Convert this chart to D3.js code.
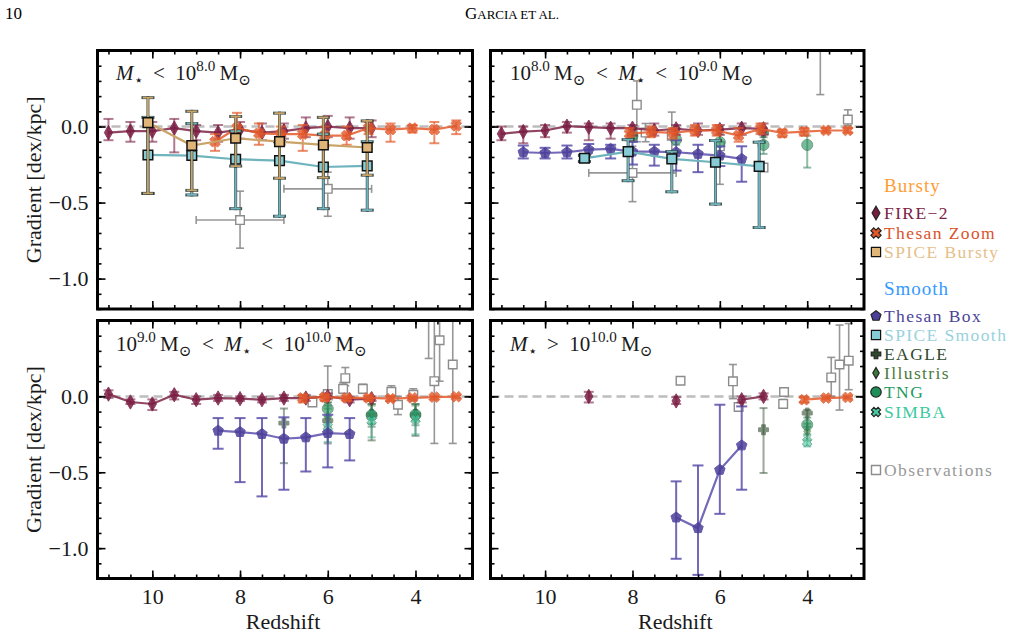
<!DOCTYPE html>
<html>
<head>
<meta charset="utf-8">
<script src="https://d3js.org/d3.v7.min.js"></script>
<style>
  body { margin: 0; background: #fff; }
  svg { display: block; font-family: 'Liberation Serif', 'DejaVu Serif', serif; }
</style>
</head>
<body>
<div id="chart"></div>
<script>
// ---- data, one array per panel: [z, gradient, errLow, errHigh]
var zTicks = [10, 8, 6, 4];
var zMinor = d3.range(3, 11.01, 0.5);
var gTicks = [0, -0.5, -1.0];
var gMinor = d3.range(-12, 6, 1).map(function(d){ return d / 10; });

var fire2 = [
  [[11.0,-0.04,-0.09,0.05],[10.5,-0.03,-0.10,0.03],[10.0,-0.03,-0.10,0.03],[9.5,-0.01,-0.17,0.05],[9.0,-0.03,-0.09,0.01],[8.5,-0.04,-0.10,0.01],[8.0,-0.02,-0.08,0.03],[7.5,-0.04,-0.09,0.02],[7.0,-0.03,-0.08,0.02],[6.5,-0.01,-0.07,0.06],[6.0,0.0,-0.07,0.07],[5.5,-0.01,-0.08,0.06],[5.0,-0.01,-0.07,0.04]],
  [[11.0,-0.048,-0.09,0.0],[10.5,-0.033,-0.11,0.0],[10.0,-0.026,-0.07,0.01],[9.5,0.002,-0.04,0.03],[9.0,-0.004,-0.09,0.02],[8.5,-0.011,-0.08,0.02],[8.0,-0.011,-0.06,0.01],[7.5,-0.026,-0.06,0.02],[7.0,-0.015,-0.055,0.01],[6.5,-0.026,-0.055,0.02],[6.0,-0.02,-0.055,0.01],[5.5,-0.011,-0.055,0.02],[5.0,-0.015,-0.055,0.02]],
  [[11.0,0.015,-0.01,0.04],[10.5,-0.037,-0.05,-0.02],[10.0,-0.05,-0.09,-0.02],[9.5,0.011,-0.02,0.03],[9.0,-0.022,-0.05,0.0],[8.5,-0.011,-0.03,0.01],[8.0,-0.015,-0.03,0.0],[7.5,-0.022,-0.04,-0.005],[7.0,-0.011,-0.03,0.01],[6.5,-0.011,-0.03,0.01],[6.0,0.0,-0.02,0.02],[5.5,-0.022,-0.04,-0.005],[5.0,-0.015,-0.03,0.0]],
  [[9.0,0.0,-0.04,0.03],[7.0,-0.03,-0.05,-0.005],[5.5,-0.022,-0.04,0.0],[5.0,0.0,-0.02,0.02]]
];

var thesanZoom = [
  [[8.57,-0.10,-0.16,-0.05],[8.07,-0.01,-0.08,0.09],[7.57,-0.045,-0.12,0.02],[7.07,-0.05,-0.12,0.0],[6.57,-0.05,-0.16,0.01],[6.07,-0.06,-0.13,0.0],[5.57,-0.06,-0.12,0.0],[5.07,-0.01,-0.05,0.03],[4.57,-0.02,-0.10,0.02],[4.07,-0.01,-0.04,0.01],[3.57,-0.02,-0.11,0.03],[3.07,0.005,-0.05,0.04]],
  [[8.07,-0.048,-0.09,-0.01],[7.57,-0.035,-0.07,0.0],[7.07,-0.042,-0.08,-0.01],[6.57,-0.026,-0.06,0.01],[6.07,-0.026,-0.06,0.01],[5.57,-0.059,-0.10,-0.01],[5.07,-0.015,-0.05,0.02],[4.57,-0.042,-0.07,-0.02],[4.07,-0.033,-0.06,-0.01],[3.57,-0.026,-0.04,-0.01],[3.07,-0.026,-0.04,-0.01]],
  [[6.57,-0.01,-0.04,0.01],[6.07,-0.005,-0.03,0.01],[5.57,-0.01,-0.03,0.0],[5.07,-0.01,-0.03,0.0],[4.57,-0.015,-0.03,0.0],[4.07,-0.01,-0.02,0.0],[3.57,-0.005,-0.02,0.0],[3.07,-0.002,-0.01,0.005]],
  [[4.07,-0.022,-0.04,-0.005],[3.57,-0.011,-0.02,0.0],[3.07,-0.007,-0.015,0.0]]
];

var spiceBursty = [
  [[10.1,0.026,-0.44,0.19],[9.1,-0.125,-0.42,0.10],[8.1,-0.077,-0.26,0.066],[7.1,-0.099,-0.34,0.088],[6.1,-0.121,-0.336,0.06],[5.1,-0.138,-0.32,0.037]],
  [], [], []
];

var spiceSmooth = [
  [[10.1,-0.187,-0.44,0.06],[9.1,-0.191,-0.45,0.02],[8.1,-0.215,-0.54,-0.03],[7.1,-0.224,-0.59,-0.10],[6.1,-0.266,-0.54,-0.05],[5.1,-0.259,-0.55,-0.10]],
  [[9.1,-0.209,-0.23,-0.19],[8.1,-0.165,-0.356,-0.086],[7.1,-0.213,-0.429,-0.165],[6.1,-0.235,-0.51,-0.092],[5.1,-0.262,-0.664,-0.103]],
  [], []
];

var thesanBox = [
  [],
  [[10.5,-0.169,-0.21,-0.125],[10.0,-0.174,-0.21,-0.14],[9.5,-0.169,-0.21,-0.125],[9.0,-0.152,-0.20,-0.115],[8.5,-0.147,-0.21,-0.12],[8.0,-0.165,-0.25,-0.10],[7.5,-0.165,-0.257,-0.12],[7.0,-0.169,-0.29,-0.09],[6.5,-0.180,-0.30,-0.12],[6.0,-0.191,-0.26,-0.13],[5.5,-0.213,-0.363,-0.13]],
  [[8.5,-0.226,-0.345,-0.143],[8.0,-0.235,-0.565,-0.143],[7.5,-0.248,-0.659,-0.143],[7.0,-0.279,-0.615,-0.138],[6.5,-0.270,-0.495,-0.143],[6.0,-0.242,-0.468,-0.121],[5.5,-0.248,-0.422,-0.143]],
  [[7.0,-0.798,-1.07,-0.56],[6.5,-0.868,-1.176,-0.455],[6.0,-0.484,-0.774,-0.055],[5.5,-0.323,-0.615,-0.066]]
];

var eagle = [
  [],
  [[8.0,-0.05,-0.08,-0.02],[5.0,-0.04,-0.07,-0.01]],
  [[7.0,-0.176,-0.44,-0.08],[6.0,-0.16,-0.31,-0.06],[5.0,-0.12,-0.29,-0.05],[4.0,-0.12,-0.26,-0.05]],
  [[5.0,-0.22,-0.505,-0.077],[4.0,-0.11,-0.20,-0.09]]
];
var illustris = [
  [], [],
  [[6.0,-0.14,-0.20,-0.08],[5.0,-0.11,-0.18,-0.06],[4.0,-0.11,-0.16,-0.06]],
  [[4.0,-0.23,-0.29,-0.18]]
];
var tng = [
  [],
  [[8.0,-0.064,-0.10,-0.02],[7.0,-0.086,-0.12,-0.05],[6.0,-0.103,-0.20,-0.05],[5.0,-0.121,-0.18,-0.04],[4.0,-0.121,-0.27,-0.06]],
  [[6.0,-0.081,-0.13,-0.04],[5.0,-0.125,-0.20,-0.05],[4.0,-0.121,-0.19,-0.05]],
  [[4.0,-0.187,-0.25,-0.14]]
];
var simba = [
  [], [],
  [[6.0,-0.20,-0.30,-0.13],[5.0,-0.16,-0.27,-0.10],[4.0,-0.15,-0.25,-0.10]],
  [[4.0,-0.30,-0.33,-0.26]]
];

// observations: [z, gradient, errLow, errHigh, zLow, zHigh]
var observations = [
  [[8.0,-0.615,-0.80,-0.425,9.0,7.0],[6.0,-0.41,-0.59,-0.30,7.0,5.0]],
  [[7.9,0.143,-0.10,0.30],[8.0,-0.305,-0.494,-0.13,9.0,7.0],[7.7,-0.04,-0.10,0.02],[7.1,-0.06,-0.20,0.095],[6.0,-0.13,-0.38,0.0],[5.0,-0.27,-0.29,-0.25],[3.7,0.65,0.21,1.0],[3.07,0.046,0.007,0.11]],
  [[6.0,0.015,-0.04,0.20],[6.35,-0.04,-0.05,-0.03],[5.6,0.12,0.07,0.19],[5.65,0.05,0.02,0.09],[5.2,0.05,0.02,0.08],[4.55,0.03,0.0,0.07],[4.4,-0.055,-0.12,0.0],[4.05,0.01,-0.03,0.05],[3.7,0.6,0.25,0.8],[3.57,0.10,-0.31,0.55],[3.45,0.37,0.10,0.6],[3.15,0.21,-0.31,0.55]],
  [[6.9,0.103,0.103,0.103],[5.7,0.099,-0.015,0.21],[5.57,-0.07,-0.08,-0.06],[4.53,0.029,0.007,0.051],[4.55,-0.05,-0.077,-0.02],[3.45,0.125,0.0,0.257],[3.26,0.21,-0.09,0.47],[3.05,0.235,0.044,0.48]]
];

var SP = "\u2002"; // en space, for math spacing round relations
var panelTitles = [
  [["M","i"],["⋆","sub"],[SP + "<" + SP + "10",""],["8.0","sup"],["\u2009M",""],["⊙","sub"]],
  [["10",""],["8.0","sup"],["\u2009M",""],["⊙","sub"],[SP + "<" + SP,""],["M","i"],["⋆","sub"],[SP + "<" + SP + "10",""],["9.0","sup"],["\u2009M",""],["⊙","sub"]],
  [["10",""],["9.0","sup"],["\u2009M",""],["⊙","sub"],[SP + "<" + SP,""],["M","i"],["⋆","sub"],[SP + "<" + SP + "10",""],["10.0","sup"],["\u2009M",""],["⊙","sub"]],
  [["M","i"],["⋆","sub"],[SP + ">" + SP + "10",""],["10.0","sup"],["\u2009M",""],["⊙","sub"]]
];

// ---- marker shapes
function polyPath(pts) { return "M" + pts.map(function(p){ return p[0].toFixed(2) + "," + p[1].toFixed(2); }).join("L") + "Z"; }
function plusPts(s) {
  var w = s * 0.38;
  return [[w,-s],[w,-w],[s,-w],[s,w],[w,w],[w,s],[-w,s],[-w,w],[-s,w],[-s,-w],[-w,-w],[-w,-s]];
}
var shapes = {
  diamond: function(s){ return polyPath([[0,-s*1.3],[s*0.75,0],[0,s*1.3],[-s*0.75,0]]); },
  xfill: function(s){ var c = Math.SQRT1_2; return polyPath(plusPts(s*1.1).map(function(p){ return [(p[0]-p[1])*c,(p[0]+p[1])*c]; })); },
  plus: function(s){ return polyPath(plusPts(s)); },
  square: function(s){ return polyPath([[-s,-s],[s,-s],[s,s],[-s,s]]); },
  pentagon: function(s){ return polyPath(d3.range(5).map(function(k){ var a = -Math.PI/2 + k*2*Math.PI/5; return [s*1.1*Math.cos(a), s*1.1*Math.sin(a)]; })); },
  circle: function(s){ return d3.symbol(d3.symbolCircle, Math.PI*s*s)(); }
};

var styles = {
  fire2:       {data: fire2, shape: "diamond", size: 5.5, fill: "#7a1c42", edge: "#7a1c42", ew: 1, color: "#7d2447", mop: 0.85, eop: 0.6, line: true, cap: 5},
  thesanZoom:  {data: thesanZoom, shape: "xfill", size: 5, fill: "#e2582a", edge: "#e2582a", ew: 1, color: "#e55c2c", mop: 0.8, eop: 0.7, line: true, cap: 5},
  spiceBursty: {data: spiceBursty, shape: "square", size: 4.8, fill: "#dfb578", edge: "#111", ew: 1.5, color: "#c9a468", mop: 1, eop: 1, line: true, cap: 5, outline: true},
  spiceSmooth: {data: spiceSmooth, shape: "square", size: 4.8, fill: "#86cbd6", edge: "#111", ew: 1.5, color: "#6fb4bd", mop: 1, eop: 1, line: true, cap: 5, outline: true},
  thesanBox:   {data: thesanBox, shape: "pentagon", size: 5, fill: "#4b3f99", edge: "#4b3f99", ew: 1, color: "#5a4fab", mop: 0.85, eop: 0.85, line: true, cap: 5.5},
  eagle:       {data: eagle, shape: "plus", size: 5, fill: "#2c4a2c", edge: "#2c4a2c", ew: 1, color: "#3a553a", mop: 0.6, eop: 0.5, line: false, cap: 4},
  illustris:   {data: illustris, shape: "diamond", size: 4.5, fill: "#3b7a3b", edge: "#3b7a3b", ew: 1, color: "#3b7a3b", mop: 0.6, eop: 0.5, line: false, cap: 4},
  tng:         {data: tng, shape: "circle", size: 5.5, fill: "#1f8f58", edge: "#1f5f3a", ew: 1, color: "#2a7a55", mop: 0.6, eop: 0.5, line: false, cap: 4},
  simba:       {data: simba, shape: "xfill", size: 4.5, fill: "#45c9a0", edge: "#2a7a60", ew: 1, color: "#3aa888", mop: 0.6, eop: 0.5, line: false, cap: 4}
};
var drawOrder = ["eagle", "illustris", "tng", "simba", "thesanBox", "fire2", "thesanZoom", "spiceSmooth", "spiceBursty"];

var panels = [
  {x0: 97.5, x1: 472.5, y0: 50.5, y1: 309, left: true, bottom: false, tx: 116, ty: 80},
  {x0: 490.5, x1: 864, y0: 50.5, y1: 309, left: false, bottom: false, tx: 510, ty: 80},
  {x0: 97.5, x1: 472.5, y0: 320.5, y1: 578.5, left: true, bottom: true, tx: 116, ty: 351},
  {x0: 490.5, x1: 864, y0: 320.5, y1: 578.5, left: false, bottom: true, tx: 510, ty: 351}
];

var svg = d3.select("#chart").append("svg").attr("width", 1023).attr("height", 635);

// page header
svg.append("text").attr("x", 5).attr("y", 19).style("font-size", "17px").text("10");
var hdr = svg.append("text").attr("x", 512).attr("y", 19).attr("text-anchor", "middle").style("font-size", "17px");
hdr.append("tspan").text("G");
hdr.append("tspan").style("font-size", "13px").text("ARCIA ET AL.");

function mathText(g, x, y, segs, size) {
  var t = g.append("text").attr("x", x).attr("y", y).style("font-size", size + "px").style("white-space", "pre").attr("fill", "#1a1a1a");
  var shift = 0;
  segs.forEach(function(s) {
    var sp = t.append("tspan").text(s[0]);
    var target = s[1] == "sup" ? -0.42 * size : (s[1] == "sub" ? 0.22 * size : 0);
    sp.attr("dy", target - shift);
    shift = target;
    if (s[1] == "sup" || s[1] == "sub") sp.style("font-size", (size * 0.72) + "px");
    if (s[1] == "i") sp.style("font-style", "italic");
  });
}

function errbar(g, x1, y1, x2, y2, vertical, cap, color, width, op, outline) {
  var segs = [[x1, y1, x2, y2]];
  if (vertical) { segs.push([x1 - cap, y1, x1 + cap, y1]); segs.push([x2 - cap, y2, x2 + cap, y2]); }
  else { segs.push([x1, y1 - cap, x1, y1 + cap]); segs.push([x2, y2 - cap, x2, y2 + cap]); }
  if (outline) {
    segs.forEach(function(s) {
      g.append("line").attr("x1", s[0]).attr("y1", s[1]).attr("x2", s[2]).attr("y2", s[3])
        .attr("stroke", "#2a3a3a").attr("stroke-width", width + 1.2).attr("stroke-linecap", "square").attr("opacity", 0.85);
    });
  }
  segs.forEach(function(s) {
    g.append("line").attr("x1", s[0]).attr("y1", s[1]).attr("x2", s[2]).attr("y2", s[3])
      .attr("stroke", color).attr("stroke-width", width).attr("opacity", op);
  });
}

panels.forEach(function(p, i) {
  var x = d3.scaleLinear().domain([11.25, 2.7]).range([p.x0, p.x1]);
  var y = d3.scaleLinear().domain([-1.2, 0.5]).range([p.y1, p.y0]);

  svg.append("clipPath").attr("id", "clip" + i).append("rect")
    .attr("x", p.x0).attr("y", p.y0).attr("width", p.x1 - p.x0).attr("height", p.y1 - p.y0);
  var g = svg.append("g").attr("clip-path", "url(#clip" + i + ")");

  // zero line
  g.append("line").attr("x1", p.x0).attr("x2", p.x1).attr("y1", y(0)).attr("y2", y(0))
    .attr("stroke", "#bdbdbd").attr("stroke-width", 2.5).attr("stroke-dasharray", "9,5");

  // observations
  observations[i].forEach(function(d) {
    if (d.length > 4) errbar(g, x(d[4]), y(d[1]), x(d[5]), y(d[1]), false, 4, "#8c8c8c", 1.6, 0.9, false);
    if (d[2] != d[3]) errbar(g, x(d[0]), y(d[3]), x(d[0]), y(d[2]), true, 4, "#8c8c8c", 1.6, 0.9, false);
    g.append("path").attr("d", shapes.square(4.3)).attr("transform", "translate(" + x(d[0]) + "," + y(d[1]) + ")")
      .attr("fill", "#fff").attr("stroke", "#8c8c8c").attr("stroke-width", 1.4);
  });

  drawOrder.forEach(function(key) {
    var st = styles[key];
    var pts = st.data[i];
    if (!pts.length) return;
    pts.forEach(function(d) {
      errbar(g, x(d[0]), y(d[3]), x(d[0]), y(d[2]), true, st.cap, st.color, st.outline ? 1.8 : 2, st.eop, st.outline);
    });
    if (st.line) {
      var line = d3.line().x(function(d){ return x(d[0]); }).y(function(d){ return y(d[1]); })
        .defined(function(d){ return d !== null; });
      var seq = [];
      pts.forEach(function(d, k) {
        if (k > 0 && Math.abs(pts[k-1][0] - d[0]) > 1.2) seq.push(null);
        seq.push(d);
      });
      g.append("path").attr("d", line(seq)).attr("fill", "none")
        .attr("stroke", st.color).attr("stroke-width", 2.2).attr("opacity", Math.max(st.mop, 0.85));
    }
    pts.forEach(function(d) {
      g.append("path").attr("d", shapes[st.shape](st.size))
        .attr("transform", "translate(" + x(d[0]) + "," + y(d[1]) + ")")
        .attr("fill", st.fill).attr("stroke", st.edge).attr("stroke-width", st.ew).attr("opacity", st.mop);
    });
  });

  // ticks on all sides, pointing in
  var fmt = d3.format(".1f");
  var ax = svg.append("g");
  ax.append("g").attr("transform", "translate(0," + p.y1 + ")")
    .call(d3.axisBottom(x).tickValues(zMinor).tickSize(-4).tickFormat(""));
  ax.append("g").attr("transform", "translate(0," + p.y1 + ")")
    .call(d3.axisBottom(x).tickValues(zTicks).tickSize(-8).tickPadding(10).tickFormat(p.bottom ? d3.format("d") : ""));
  ax.append("g").attr("transform", "translate(0," + p.y0 + ")")
    .call(d3.axisTop(x).tickValues(zMinor).tickSize(-4).tickFormat(""));
  ax.append("g").attr("transform", "translate(0," + p.y0 + ")")
    .call(d3.axisTop(x).tickValues(zTicks).tickSize(-8).tickFormat(""));
  ax.append("g").attr("transform", "translate(" + p.x0 + ",0)")
    .call(d3.axisLeft(y).tickValues(gMinor).tickSize(-4).tickFormat(""));
  ax.append("g").attr("transform", "translate(" + p.x0 + ",0)")
    .call(d3.axisLeft(y).tickValues(gTicks).tickSize(-8).tickPadding(9).tickFormat(p.left ? fmt : ""));
  ax.append("g").attr("transform", "translate(" + p.x1 + ",0)")
    .call(d3.axisRight(y).tickValues(gMinor).tickSize(-4).tickFormat(""));
  ax.append("g").attr("transform", "translate(" + p.x1 + ",0)")
    .call(d3.axisRight(y).tickValues(gTicks).tickSize(-8).tickFormat(""));
  ax.selectAll(".domain").remove();
  ax.selectAll(".tick line").attr("stroke", "#000").attr("stroke-width", 1.6);
  ax.selectAll(".tick text").attr("fill", "#1a1a1a").style("font-size", "22px")
    .style("font-family", "'Liberation Serif', 'DejaVu Serif', serif");

  svg.append("rect").attr("x", p.x0).attr("y", p.y0).attr("width", p.x1 - p.x0).attr("height", p.y1 - p.y0)
    .attr("fill", "none").attr("stroke", "#000").attr("stroke-width", 3);

  mathText(svg, p.tx, p.ty, panelTitles[i], 21);

  if (p.left) {
    svg.append("text").attr("transform", "translate(41," + ((p.y0 + p.y1) / 2) + ") rotate(-90)")
      .attr("text-anchor", "middle").style("font-size", "22px").attr("fill", "#1a1a1a").text("Gradient [dex/kpc]");
  }
  if (p.bottom) {
    svg.append("text").attr("x", (p.x0 + p.x1) / 2 - 2).attr("y", 629).attr("text-anchor", "middle")
      .style("font-size", "22px").attr("fill", "#1a1a1a").text("Redshift");
  }
});

// ---- legend
var legendItems = [
  {label: "Bursty", head: true, color: "#ff9d35", y: 186},
  {label: "FIRE−2", key: "fire2", color: "#7b2343", y: 213},
  {label: "Thesan Zoom", key: "thesanZoom", color: "#d9522b", y: 233},
  {label: "SPICE Bursty", key: "spiceBursty", color: "#e6c08a", y: 252},
  {label: "Smooth", head: true, color: "#3399ff", y: 289},
  {label: "Thesan Box", key: "thesanBox", color: "#4c4398", y: 316},
  {label: "SPICE Smooth", key: "spiceSmooth", color: "#98d2dc", y: 335},
  {label: "EAGLE", key: "eagle", color: "#2e4a2e", y: 354},
  {label: "Illustris", key: "illustris", color: "#4a7a3e", y: 373},
  {label: "TNG", key: "tng", color: "#1e9a60", y: 392},
  {label: "SIMBA", key: "simba", color: "#3cc8a0", y: 412},
  {label: "Observations", key: "obs", color: "#999999", y: 470}
];
var lg = svg.append("g");
legendItems.forEach(function(it) {
  if (it.head) {
    lg.append("text").attr("x", 884).attr("y", it.y + 6).style("font-size", "19px").style("letter-spacing", "1px")
      .attr("fill", it.color).text(it.label);
    return;
  }
  if (it.key == "obs") {
    lg.append("path").attr("d", shapes.square(4.5)).attr("transform", "translate(876," + it.y + ")")
      .attr("fill", "#fff").attr("stroke", "#8c8c8c").attr("stroke-width", 1.4);
  } else {
    var st = styles[it.key];
    lg.append("path").attr("d", shapes[st.shape](st.shape == "square" ? 4.6 : st.size * 0.95)).attr("transform", "translate(876," + it.y + ")")
      .attr("fill", st.fill).attr("stroke", st.shape == "square" ? "#111" : "#222").attr("stroke-width", 1.2);
  }
  lg.append("text").attr("x", 884).attr("y", it.y + 6).style("font-size", "17.5px").style("letter-spacing", "1.4px")
    .attr("fill", it.color).text(it.label);
});
</script>
</body>
</html>
